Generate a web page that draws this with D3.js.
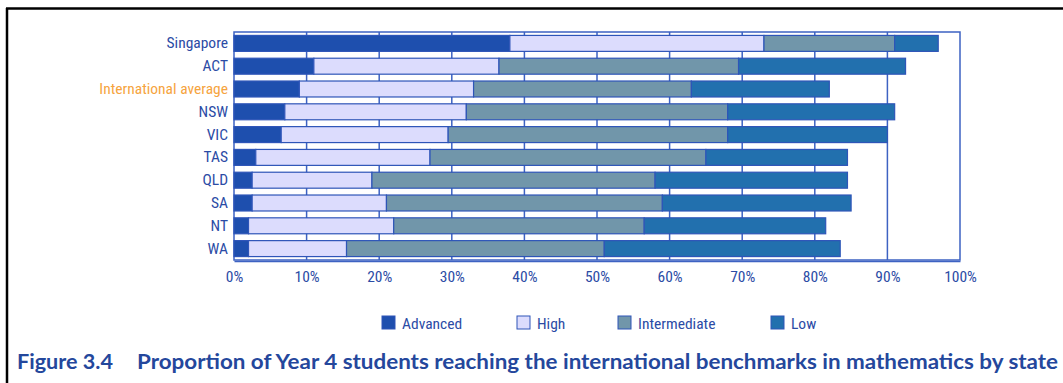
<!DOCTYPE html>
<html>
<head>
<meta charset="utf-8">
<script src="https://cdn.jsdelivr.net/npm/d3@7"></script>
<style>
  html, body { margin: 0; padding: 0; background: #fff; }
  svg { display: block; }
</style>
</head>
<body>
<svg id="chart" width="1063" height="383"></svg>
<script>
const categories = ["Singapore", "ACT", "International average", "NSW", "VIC", "TAS", "QLD", "SA", "NT", "WA"];
const seriesNames = ["Advanced", "High", "Intermediate", "Low"];
const advanced     = [38,   11,   9,  7,   6.5, 3,    2.5,  2.5,  2,    2];
const high         = [35,   25.5, 24, 25,  23,  24,   16.5, 18.5, 20,   13.5];
const intermediate = [18,   33,   30, 36,  38.5,38,   39,   38,   34.5, 35.5];
const low          = [6,    23,   19, 23,  22,  19.5, 26.5, 26,   25,   32.5];
const xTicks = [0, 10, 20, 30, 40, 50, 60, 70, 80, 90, 100];
const titleNumber = "Figure 3.4";
const titleText = "Proportion of Year 4 students reaching the international benchmarks in mathematics by state";

const colors = ["#1e4fae", "#dcdcfd", "#7196aa", "#2270ae"];
const lineBlue = "#3d62c2";
const textBlue = "#2b4ba5";
const narrow = "'Liberation Sans Narrow', 'Arial Narrow', 'Roboto Condensed', sans-serif";

const rows = categories.map((c, i) => ({
  cat: c, Advanced: advanced[i], High: high[i], Intermediate: intermediate[i], Low: low[i]
}));

const svg = d3.select("#chart");
const M = { left: 234, right: 960, top: 32, bottom: 260 };

const x = d3.scaleLinear().domain([0, 100]).range([M.left, M.right]);
const y = d3.scaleBand().domain(categories).range([M.top, M.bottom]).paddingInner(0.3).paddingOuter(0.15);

// outer frame lines
svg.append("line").attr("x1", 6).attr("x2", 1063).attr("y1", 8.5).attr("y2", 8.5)
  .attr("stroke", "#000").attr("stroke-width", 2.5);
svg.append("line").attr("x1", 7).attr("x2", 7).attr("y1", 8).attr("y2", 383)
  .attr("stroke", "#000").attr("stroke-width", 2.5);

// plot box
svg.append("rect").attr("x", M.left).attr("y", M.top)
  .attr("width", M.right - M.left).attr("height", M.bottom - M.top)
  .attr("fill", "none").attr("stroke", lineBlue).attr("stroke-width", 1.5);

// gridlines
svg.append("g").selectAll("line").data(xTicks.slice(1, -1)).join("line")
  .attr("x1", d => x(d)).attr("x2", d => x(d))
  .attr("y1", M.top).attr("y2", M.bottom)
  .attr("stroke", lineBlue).attr("stroke-width", 1.5);

const stack = d3.stack().keys(seriesNames)(rows);

svg.append("g").selectAll("g").data(stack).join("g")
  .attr("fill", (d, i) => colors[i])
  .selectAll("rect").data(d => d).join("rect")
  .attr("x", d => x(d[0]))
  .attr("y", d => y(d.data.cat))
  .attr("width", d => x(d[1]) - x(d[0]))
  .attr("height", y.bandwidth())
  .attr("stroke", "#2e55b8")
  .attr("stroke-width", 1.2);

// bottom axis
const xAxis = d3.axisBottom(x).tickValues(xTicks).tickFormat(d => d + "%").tickSize(0).tickPadding(10);
const gx = svg.append("g").attr("transform", `translate(0,${M.bottom + 1})`).call(xAxis);
gx.select(".domain").attr("stroke", lineBlue).attr("stroke-width", 1.5);
gx.selectAll("text").attr("fill", textBlue).attr("font-family", narrow).attr("font-size", 15.5);

// left axis labels
const yAxis = d3.axisLeft(y).tickSize(0).tickPadding(6);
const gy = svg.append("g").attr("transform", `translate(${M.left},0)`).call(yAxis);
gy.select(".domain").remove();
gy.selectAll("text").attr("font-family", narrow).attr("font-size", 15.5)
  .attr("fill", d => d === "International average" ? "#f6a43e" : textBlue);

// legend
const legendX = [382, 517, 618, 771];
const lg = svg.append("g").selectAll("g").data(seriesNames).join("g")
  .attr("transform", (d, i) => `translate(${legendX[i]},316)`);
lg.append("rect").attr("width", 13).attr("height", 13)
  .attr("fill", (d, i) => colors[i]).attr("stroke", "#2e55b8").attr("stroke-width", 1);
lg.append("text").attr("x", 20).attr("y", 13).text(d => d)
  .attr("font-family", narrow).attr("font-size", 15.5).attr("fill", textBlue);

// title
const title = svg.append("text").attr("y", 369).attr("font-family", "Lato, 'Open Sans', sans-serif")
  .attr("font-weight", "bold").attr("font-size", 21).attr("fill", "#24479c");
title.append("tspan").attr("x", 17).text(titleNumber).attr("textLength", 96).attr("lengthAdjust", "spacingAndGlyphs");
title.append("tspan").attr("x", 137).text(titleText).attr("textLength", 921).attr("lengthAdjust", "spacingAndGlyphs");
</script>
</body>
</html>
